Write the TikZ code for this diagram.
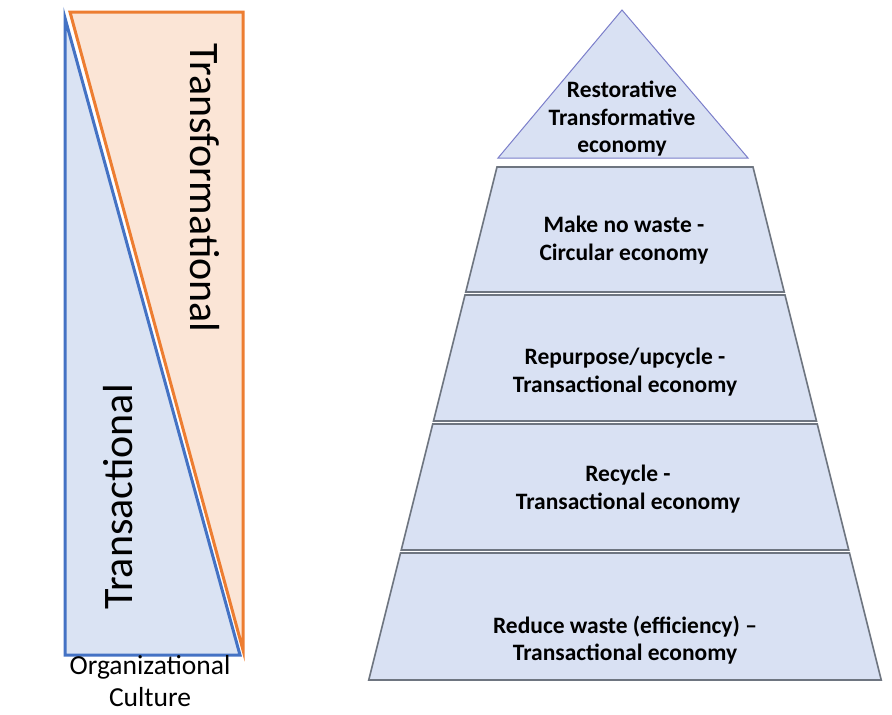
\documentclass[tikz,border=0pt]{standalone}
\usepackage{fontspec}
\setmainfont{Carlito}
\definecolor{cultblue}{HTML}{4472C4}
\definecolor{cultorange}{HTML}{ED7D31}
\definecolor{blueback}{HTML}{DAE3F3}
\definecolor{orangeback}{HTML}{FBE5D6}
\definecolor{layerfill}{HTML}{D9E1F3}
\definecolor{layerline}{HTML}{6E7580}
\begin{document}
\begin{tikzpicture}[x=1pt, y=-1pt,
  culture/.style = {line width=3pt, line join=miter},
  layer/.style = {fill=layerfill, draw=layerline, line width=1.6pt},
  layertext/.style = {align=center, font=\fontsize{23.5}{27.5}\selectfont\bfseries},
  sidetext/.style = {font=\fontsize{42}{48}\selectfont}]
  \useasboundingbox (0,0) rectangle (892,715);

  % culture triangles
  \draw[culture, draw=cultorange, fill=orangeback] (70,12) -- (243,12) -- (243,650) -- cycle;
  \draw[culture, draw=cultblue, fill=blueback] (65,18) -- (65,655) -- (240,655) -- cycle;
  \node[sidetext, rotate=-90] (transf) at (205,188) {Transformational};
  \node[sidetext, rotate=90] (transa) at (118,497) {Transactional};
  \node[align=center, font=\fontsize{27.5}{32}\selectfont, inner sep=0pt] (culture) at (150,681) {Organizational\\Culture};

  % pyramid
  \draw[layer, draw=layerline!60!blue!70!white, line width=1pt] (622,10) -- (748,158) -- (498,158) -- cycle;
  \foreach \yt/\yb in {167/292, 295/421, 424/550, 553/680}
    \draw[layer] ({497-0.25*(\yt-167)},\yt) -- ({753+0.25*(\yt-167)},\yt)
      -- ({753+0.25*(\yb-167)},\yb) -- ({497-0.25*(\yb-167)},\yb) -- cycle;

  \node[layertext] (restore) at (622,119) {Restorative\\Transformative\\economy};
  \node[layertext] (nowaste) at (624,240) {Make no waste -\\Circular economy};
  \node[layertext] (repurpose) at (625,372) {Repurpose/upcycle -\\Transactional economy};
  \node[layertext] (recycle) at (628,489) {Recycle -\\Transactional economy};
  \node[layertext] (reduce) at (625,640) {Reduce waste (efficiency) --\\Transactional economy};
\end{tikzpicture}
\end{document}
